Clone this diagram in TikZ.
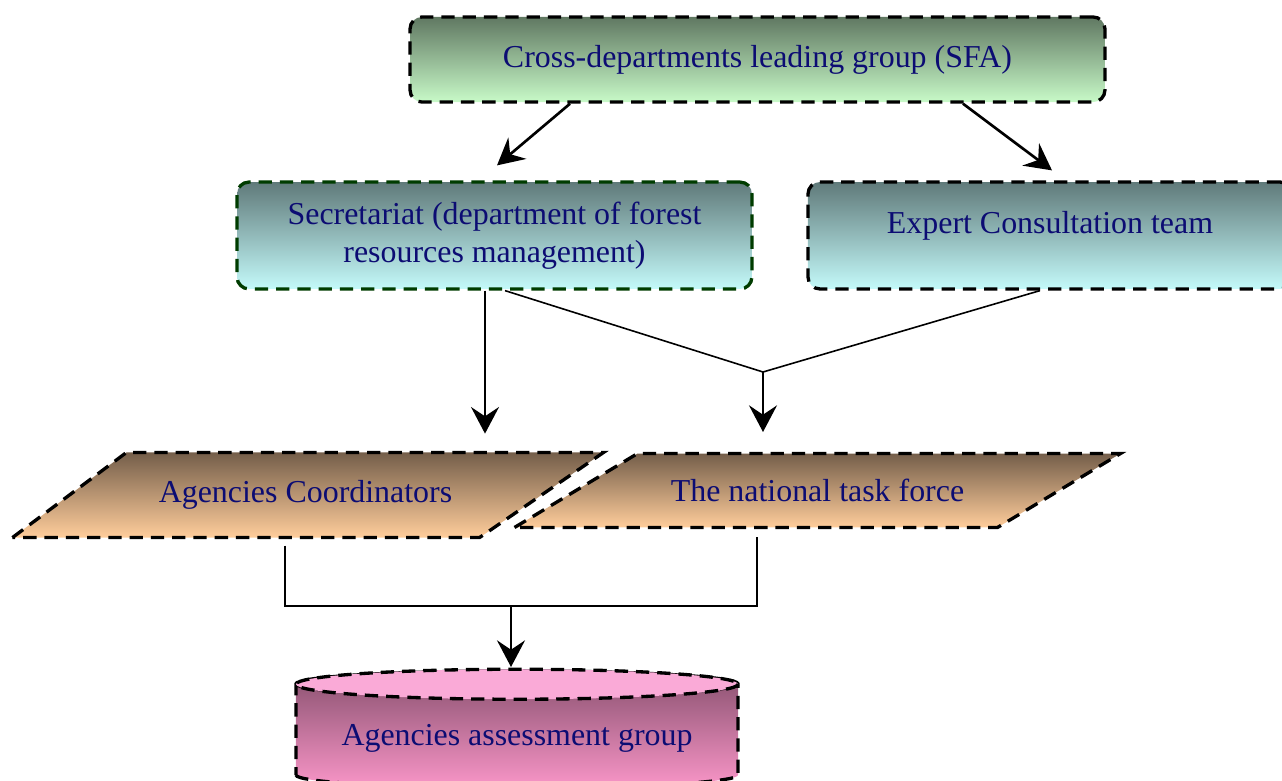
\documentclass[tikz,border=0pt]{standalone}
\usepackage{fontspec}
\setmainfont{Liberation Serif}
\usetikzlibrary{positioning,calc,shapes.geometric,arrows.meta,backgrounds}

\definecolor{navytext}{RGB}{12,12,115}
\definecolor{leadtop}{RGB}{96,120,98}
\definecolor{leadbot}{RGB}{200,250,200}
\definecolor{teamtop}{RGB}{96,122,122}
\definecolor{teambot}{RGB}{196,250,250}
\definecolor{secrline}{RGB}{0,60,0}
\definecolor{partop}{RGB}{116,94,74}
\definecolor{parbot}{RGB}{255,205,155}
\definecolor{cyltop}{RGB}{135,80,110}
\definecolor{cylbot}{RGB}{250,150,200}
\definecolor{cylend}{RGB}{250,170,215}

\begin{document}
\begin{tikzpicture}[x=0.376pt,y=-0.376pt]
\tikzset{box/.style={draw, line width=1.25pt, dash pattern=on 5pt off 3pt, text=navytext,
      font=\fontsize{12}{14.5}\selectfont, align=center},
   rbox/.style={box, rounded corners=4.5pt},
   ptext/.style={text=navytext, font=\fontsize{12}{14.5}\selectfont, inner sep=0pt},
   pshade/.style={box, top color=partop, bottom color=parbot},
   arr/.style={line width=1pt, -{Stealth[length=10pt,width=10.5pt,inset=3.5pt]}},
   link/.style={semithick}};
   \useasboundingbox (0,0) rectangle (1282,780);

   \node[rbox, top color=leadtop, bottom color=leadbot, minimum width=261.3pt, minimum height=32pt]
      at (757.5,59.5) (lead) {Cross-departments leading group (SFA)};
   \node[rbox, draw=secrline, top color=teamtop, bottom color=teambot, minimum width=193.6pt, minimum height=40.2pt]
      at (494.5,235.5) (secr) {Secretariat (department of forest\\ resources management)};
   \node[rbox, top color=teamtop, bottom color=teambot, minimum width=182pt, minimum height=40.2pt, text depth=10pt]
      at (1050,235.5) (team) {Expert Consultation team};

   % parallelograms: text node first, slanted outline behind it
   \node[ptext, minimum width=177.1pt, minimum height=31.6pt] at (305.5,495) (coord) {Agencies Coordinators};
   \node[ptext, minimum width=181.2pt, minimum height=27.4pt] at (817.5,490.5) (task) {The national task force};
   \begin{scope}[on background layer]
      \draw[pshade] ($(coord.south west)+(-57,0)$) -- ($(coord.north west)+(57,0)$)
         -- ($(coord.north east)+(62,0)$) -- ($(coord.south east)+(-62,0)$) -- cycle;
      \draw[pshade] ($(task.south west)+(-61.5,0)$) -- ($(task.north west)+(61.5,0)$)
         -- ($(task.north east)+(61.5,0)$) -- ($(task.south east)+(-61.5,0)$) -- cycle;
   \end{scope}

   \node[box, cylinder, shape border rotate=90, aspect=0.07, top color=cyltop, bottom color=cylbot,
      minimum width=166.2pt, minimum height=44pt] at (517,738.5) (grp) {Agencies assessment group};
   \draw[box, fill=cylend] ($(grp.top)+(0,15)$) ellipse (221 and 15);

   \coordinate (fork) at (763,372);
   \coordinate (join) at (511,606);

   \draw[arr] ($(lead.south)+(-187.5,0)$) -- ($(secr.north)+(2.5,-15)$);
   \draw[arr] ($(lead.south)+(205.5,0)$) -- ($(team.north)+(2,-10)$);
   \draw[arr] ($(secr.south)+(-9.5,0)$) -- ++(0,143);
   \draw[link] ($(secr.south)+(10.5,0)$) -- (fork) -- ($(team.south)+(-10,0)$);
   \draw[arr] (fork) -- ++(0,60);
   \draw[link] ($(coord.south)+(-20.5,8)$) |- (join) -| ($(task.south)+(-60.5,10)$);
   \draw[arr] (join) -- ++(0,61);

\end{tikzpicture}
\end{document}
